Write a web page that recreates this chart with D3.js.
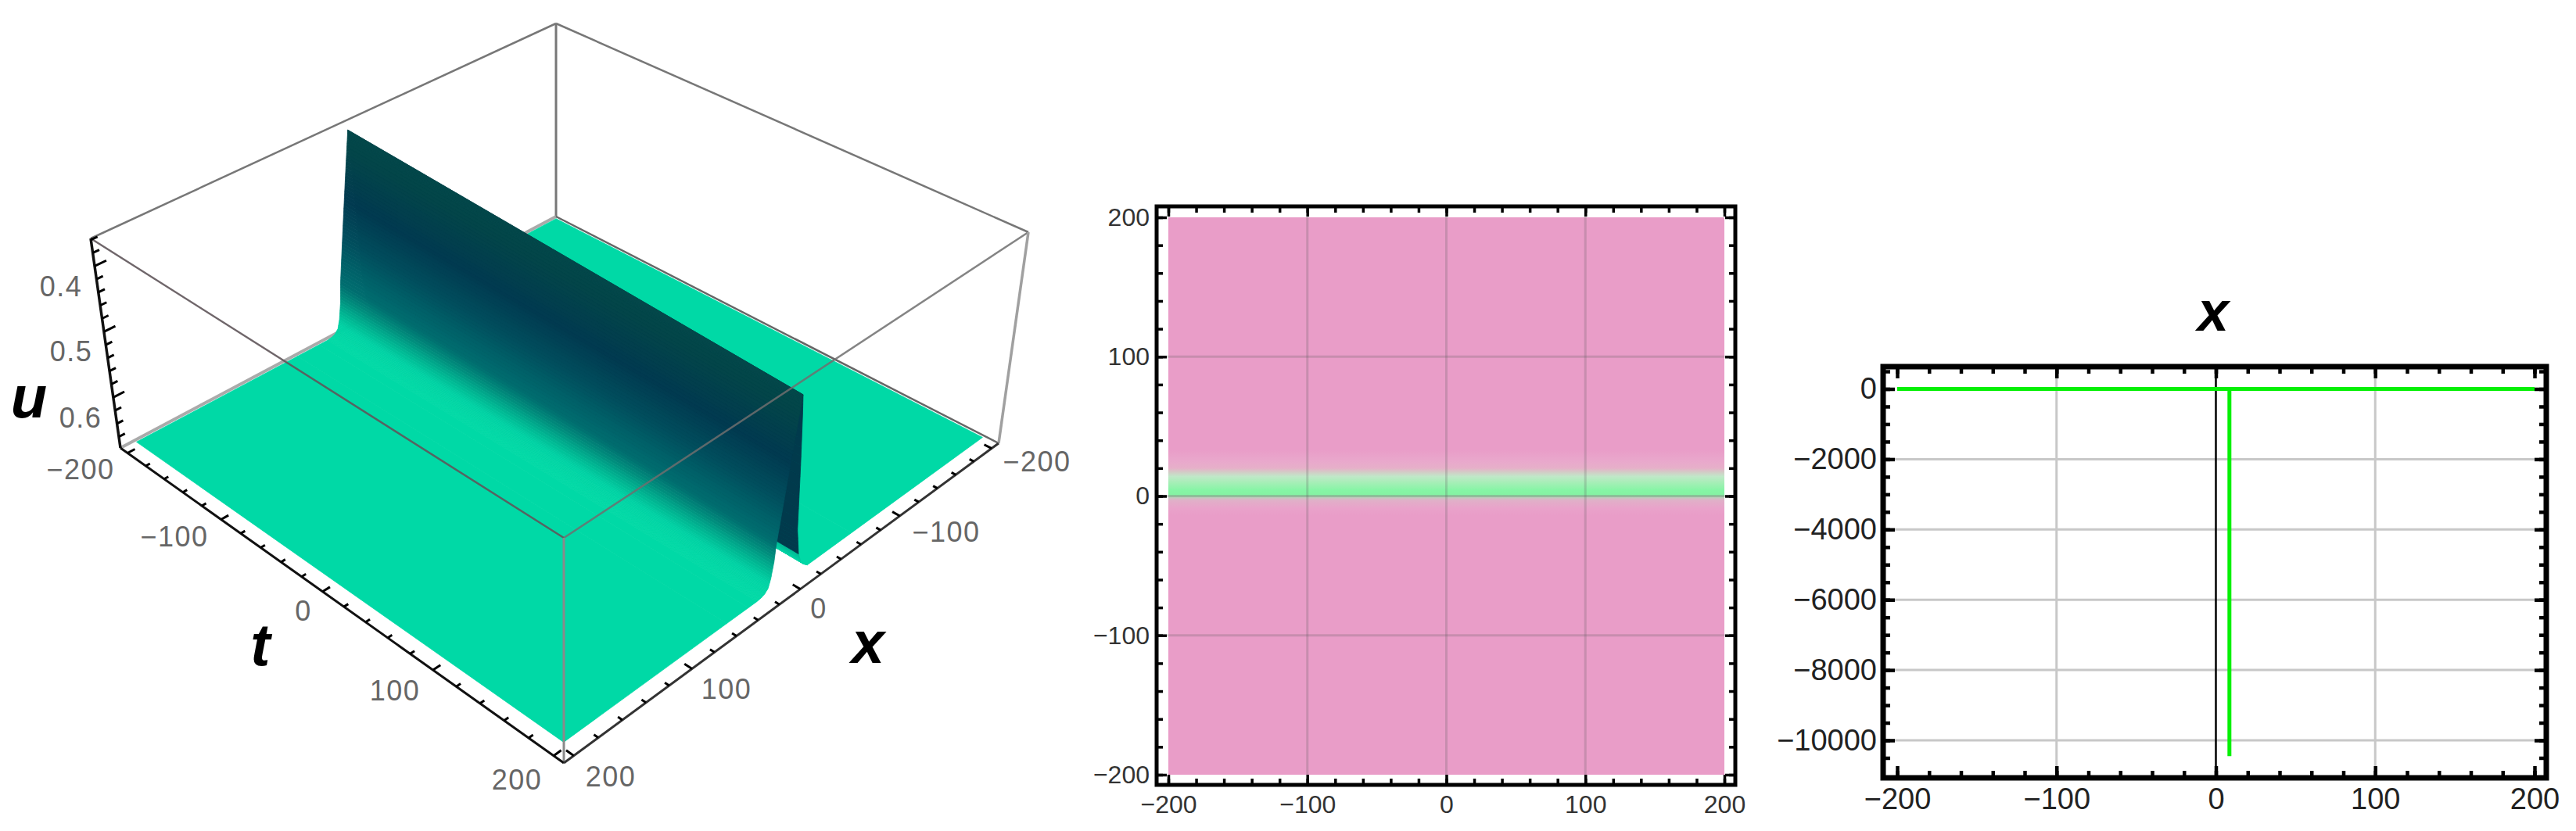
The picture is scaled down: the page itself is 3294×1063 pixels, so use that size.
<!DOCTYPE html>
<html><head><meta charset="utf-8">
<script src="https://cdnjs.cloudflare.com/ajax/libs/d3/7.8.5/d3.min.js"></script>
<style>html,body{margin:0;padding:0;background:#fff;overflow:hidden}svg{display:block;font-family:"Liberation Sans",Arial,sans-serif}</style>
</head><body><svg id="c" width="3294" height="1063"></svg>
<script>
// ---- 3D surface data (u against x; the ridge runs along t) ----
const ridgeX = [200,60,40,32,28,25,22,20,18,17,15,13,11,9,7,5,3,2,1,-1,-3,-6,-9,-12,-16,-60,-200];
const ridgeU = [.668,.668,.668,.668,.667,.665,.66,.648,.625,.60,.572,.544,.516,.488,.46,.432,.404,.39,.42,.5,.6,.64,.655,.662,.668,.668,.668];
const tEnds = [-200,200];
const ridgeGain = [1.1,.965];   // height of the ridge at each t end
const floorU = .668;
const colorU = [.668,.655,.64,.62,.6,.57,.54,.485,.42,.39];
const colorHex = ["#00d9a6","#00d2a4","#00b894","#00907e","#006e70","#006068","#014f5e","#013a50","#034549","#04484a"];
const ticks3D = d3.range(-200,201,20);
const majors3D = [-200,-100,0,100,200];
const ticksU = d3.range(.36,.67,.02);
const majorsU = [.4,.5,.6];
const labelsU = ["0.4","0.5","0.6"];
const labelsT = ["\u2212200","\u2212100","0","100","200"];
const labelsX = ["\u2212200","\u2212100","0","100","200"];
// ---- density panel data ----
const densityStopsY = [40,33,25,20,18,14,10,4,1,0,-1.5,-3,-9,-14];
const densityStopsC = ["#e99dc8","#e99dc8","#e9a8cc","#e6b0c9","#d8c4c6","#c0e8c8","#a8eeb8","#85f5a5","#85f2a3","#9fdcae","#c8c4c0","#e0b0c8","#e9a2ca","#e99dc8"];
const densityTicks = [-200,-100,0,100,200];
const densityMinor = d3.range(-200,201,20);
// ---- section panel data ----
const sectionX = [-200,8.5,8.5,8.5,200];
const sectionY = [0,0,-10450,0,0];
const sectionTicksX = [-200,-100,0,100,200];
const sectionMinorX = d3.range(-200,201,20);
const sectionTicksY = [0,-2000,-4000,-6000,-8000,-10000];
const sectionMinorY = d3.range(-10500,501,500);

const svg = d3.select("#c");
const defs = svg.append("defs");

// ================= 3D panel =================
const floorQ = [[711,277],[154,573],[721,976],[1277,567]];   // x-,t- / x+,t- / x+,t+ / x-,t+
const topQ   = [[711,30],[116,305],[721,688],[1315,297]];
function homography(q){
  const [[x0,y0],[x1,y1],[x2,y2],[x3,y3]] = q;
  const dx1=x1-x2,dx2=x3-x2,sx=x0-x1+x2-x3,dy1=y1-y2,dy2=y3-y2,sy=y0-y1+y2-y3;
  const d=dx1*dy2-dx2*dy1, g=(sx*dy2-dx2*sy)/d, h=(dx1*sy-sx*dy1)/d;
  const a=x1-x0+g*x1,b=x3-x0+h*x3,c=x0,e=y1-y0+g*y1,f=y3-y0+h*y3,k=y0;
  return (u,v)=>{const w=g*u+h*v+1;return [(a*u+b*v+c)/w,(e*u+f*v+k)/w];};
}
const hF=homography(floorQ), hT=homography(topQ);
const sx=d3.scaleLinear().domain([-208,208]).range([0,1]);
const st=d3.scaleLinear().domain([-208,208]).range([0,1]);
const su=d3.scaleLinear().domain([.677,.358]).range([0,1]);
function P(x,t,u){
  const a=hF(sx(x),st(t)),b=hT(sx(x),st(t)),c=su(u);
  return [a[0]+(b[0]-a[0])*c,a[1]+(b[1]-a[1])*c];
}
const colorScale=d3.scaleLinear().domain(colorU).range(colorHex).clamp(true);
const line=d3.line();
const g3=svg.append("g");
function seg(a,b,col,w){g3.append("path").attr("d",line([P(...a),P(...b)])).attr("stroke",col).attr("stroke-width",w).attr("fill","none");}
const L=-208,H=208,B=.677,T=.358;
// back edges
seg([L,L,T],[H,L,T],"#777",2.5);
seg([L,L,T],[L,H,T],"#777",2.5);
seg([L,L,B],[L,L,T],"#777",3);
seg([L,L,B],[H,L,B],"#aaa",4);
seg([L,L,B],[L,H,B],"#666",2.5);
// surface, far strips first
const FAR_COLOR="#013a4c";
const peakX=2, farFoot=-6, STEPS=6;
const lift=(u,i)=>floorU-(floorU-u)*ridgeGain[i];
const order=d3.range(ridgeX.length-1).reverse();
for(const i of order){
  const x0=ridgeX[i],x1=ridgeX[i+1],u0=ridgeU[i],u1=ridgeU[i+1];
  const flat=(u0===u1);
  const n=flat?1:STEPS;
  for(let k=n-1;k>=0;k--){
    const xa=x0+(x1-x0)*k/n,xb=x0+(x1-x0)*(k+1)/n,ua=u0+(u1-u0)*k/n,ub=u0+(u1-u0)*(k+1)/n;
    const mid=(xa+xb)/2;
    const col=(mid<peakX&&mid>farFoot)?FAR_COLOR:colorScale((ua+ub)/2);
    g3.append("path").attr("d",line([P(xa,tEnds[0],lift(ua,0)),P(xb,tEnds[0],lift(ub,0)),P(xb,tEnds[1],lift(ub,1)),P(xa,tEnds[1],lift(ua,1))])+"Z")
      .attr("fill",col).attr("stroke",col).attr("stroke-width",.8);
  }
}
// front edges over the surface
seg([H,L,T],[H,H,T],"rgba(95,85,90,.9)",2.5);
seg([L,H,T],[H,H,T],"rgba(110,110,110,.85)",2.5);
seg([H,H,B],[H,H,T],"#8a8a8a",3);
seg([L,H,B],[L,H,T],"#a0a0a0",3.5);
seg([H,L,B],[H,L,T],"#111",3.5);
seg([H,L,B],[H,H,B],"#111",3);
seg([L,H,B],[H,H,B],"#333",3);
// ticks
ticks3D.forEach(v=>{
  const m=majors3D.includes(v)?6:3.5;
  seg([H,v,B],[H-m,v,B],"#000",3);
  seg([v,H,B],[v,H-m,B],"#000",3);
});
ticksU.forEach(v=>{
  const m=majorsU.some(q=>Math.abs(q-v)<.001)?9:5;
  seg([H,L,v],[H-m,L,v],"#000",3);
});
// 3D labels (text from the label arrays, placed next to their ticks)
const placeU=[[78,366],[91,449],[103,534]];
const placeT=[[103,600],[223,686],[388,781],[505,883],[661,997]];
const placeX=[[1326,590],[1210,680],[1047,778],[929,881],[781,993]];
const labels3D=[...labelsU.map((s,i)=>[s,...placeU[i]]),...labelsT.map((s,i)=>[s,...placeT[i]]),...labelsX.map((s,i)=>[s,...placeX[i]])];
g3.selectAll("text.l").data(labels3D).join("text").attr("class","l")
  .attr("x",d=>d[1]).attr("y",d=>d[2]).attr("dy",".36em").attr("text-anchor","middle")
  .attr("font-size",36).attr("letter-spacing",1.5).attr("fill","#666").text(d=>d[0]);
const titles3D=[["u",37,513],["t",333,830],["x",1110,827]];
g3.selectAll("text.t").data(titles3D).join("text").attr("class","t")
  .attr("x",d=>d[1]).attr("y",d=>d[2]).attr("dy",".27em").attr("text-anchor","middle")
  .attr("font-size",76).attr("font-weight","bold").attr("font-style","italic").attr("fill","#000").text(d=>d[0]);

// ================= 2D helpers =================
function axes(g,x,y,xMaj,xMin,yMaj,yMin,opt){
  const add=(gen,tx,ty,vals,size,labels,pad)=>{
    const a=g.append("g").attr("transform",`translate(${tx},${ty})`)
      .call(gen.tickValues(vals).tickSizeInner(-size).tickSizeOuter(0).tickPadding(pad)
        .tickFormat(labels?d3.format("d"):""));
    a.select(".domain").remove();
    a.selectAll("line").attr("stroke","#000").attr("stroke-width",opt.tickW);
    a.attr("font-size",opt.font).attr("font-family",'"Liberation Sans",Arial,sans-serif');
    a.selectAll("text").attr("fill",opt.color);
  };
  const f=opt.frame;
  add(d3.axisBottom(x),0,f.b,xMin,opt.minor,false,opt.padB);
  add(d3.axisBottom(x),0,f.b,xMaj,opt.major,true,opt.padB);
  add(d3.axisTop(x),0,f.t,xMin,opt.minor,false,0);
  add(d3.axisTop(x),0,f.t,xMaj,opt.major,false,0);
  add(d3.axisLeft(y),f.l,0,yMin,opt.minor,false,opt.padL);
  add(d3.axisLeft(y),f.l,0,yMaj,opt.major,true,opt.padL);
  add(d3.axisRight(y),f.r,0,yMin,opt.minor,false,0);
  add(d3.axisRight(y),f.r,0,yMaj,opt.major,false,0);
  g.append("rect").attr("x",f.l).attr("y",f.t).attr("width",f.r-f.l).attr("height",f.b-f.t)
    .attr("fill","none").attr("stroke","#000").attr("stroke-width",opt.frameW);
}

// ================= density panel =================
const g2=svg.append("g");
const x2=d3.scaleLinear().domain([-200,200]).range([1494,2205]);
const y2=d3.scaleLinear().domain([-200,200]).range([991,278]);
g2.append("rect").attr("x",x2(-200)).attr("y",y2(200)).attr("width",x2(200)-x2(-200)).attr("height",y2(-200)-y2(200)).attr("fill",densityStopsC[0]);
const gr=defs.append("linearGradient").attr("id","band").attr("gradientUnits","userSpaceOnUse")
  .attr("x1",0).attr("x2",0).attr("y1",y2(densityStopsY[0])).attr("y2",y2(densityStopsY[densityStopsY.length-1]));
densityStopsY.forEach((v,i)=>gr.append("stop").attr("offset",(v-densityStopsY[0])/(densityStopsY[densityStopsY.length-1]-densityStopsY[0])).attr("stop-color",densityStopsC[i]));
g2.append("rect").attr("x",x2(-200)).attr("y",y2(densityStopsY[0])).attr("width",x2(200)-x2(-200))
  .attr("height",y2(densityStopsY[densityStopsY.length-1])-y2(densityStopsY[0])).attr("fill","url(#band)");
[-100,0,100].forEach(v=>{
  g2.append("line").attr("x1",x2(v)).attr("x2",x2(v)).attr("y1",264).attr("y2",1004).attr("stroke","rgba(90,90,90,.24)").attr("stroke-width",3);
  g2.append("line").attr("y1",y2(v)).attr("y2",y2(v)).attr("x1",1479).attr("x2",2219).attr("stroke","rgba(90,90,90,.24)").attr("stroke-width",3);
});
axes(g2,x2,y2,densityTicks,densityMinor,densityTicks,densityMinor,
  {frame:{l:1479,r:2219,t:264,b:1004},padB:13,padL:9,tickW:3.5,font:32,color:"#333",minor:8,major:13,frameW:5});

// ================= section panel =================
const g1=svg.append("g");
const x1=d3.scaleLinear().domain([-200,200]).range([2426,3241]);
const y1=d3.scaleLinear().domain([-10000,0]).range([947,497.5]);
[-100,100].forEach(v=>g1.append("line").attr("x1",x1(v)).attr("x2",x1(v)).attr("y1",469).attr("y2",995).attr("stroke","#c8c8c8").attr("stroke-width",3));
[-2000,-4000,-6000,-8000,-10000].forEach(v=>g1.append("line").attr("y1",y1(v)).attr("y2",y1(v)).attr("x1",2408).attr("x2",3256).attr("stroke","#c8c8c8").attr("stroke-width",3));
g1.append("line").attr("x1",x1(0)).attr("x2",x1(0)).attr("y1",469).attr("y2",995).attr("stroke","#000").attr("stroke-width",2.5);
g1.append("path").attr("d",d3.line().x(d=>x1(d[0])).y(d=>y1(d[1]))(sectionX.map((v,i)=>[v,sectionY[i]])))
  .attr("fill","none").attr("stroke","#05f005").attr("stroke-width",5);
axes(g1,x1,y1,sectionTicksX,sectionMinorX,sectionTicksY,sectionMinorY,
  {frame:{l:2408,r:3256,t:469,b:995},padB:13,padL:8,tickW:4.5,font:38,color:"#222",minor:9,major:15,frameW:7});
g1.append("text").attr("x",2830).attr("y",404).attr("dy",".27em").attr("text-anchor","middle").attr("font-size",72)
  .attr("font-weight","bold").attr("font-style","italic").attr("fill","#000").text("x");
</script></body></html>
